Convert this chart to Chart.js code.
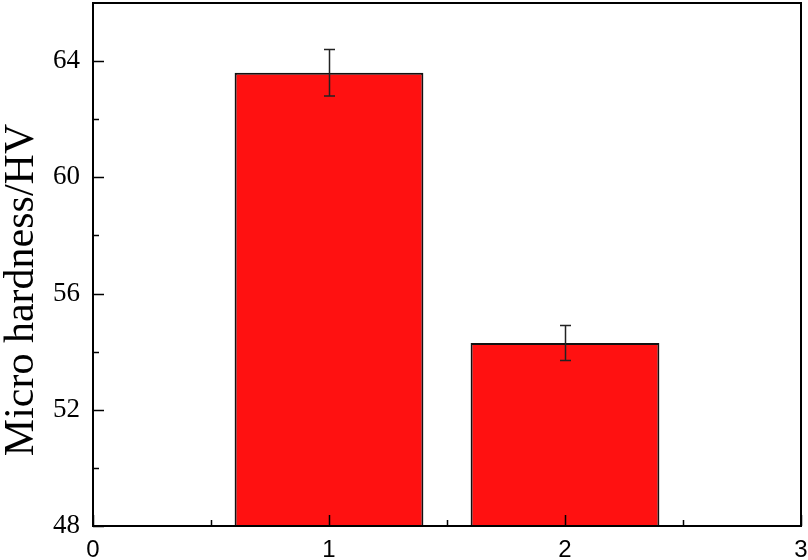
<!DOCTYPE html>
<html>
<head>
<meta charset="utf-8">
<script src="https://cdn.jsdelivr.net/npm/chart.js@4.4.0/dist/chart.umd.min.js"></script>
<style>
  html, body { margin: 0; padding: 0; background: #ffffff; }
  #wrap { width: 808px; height: 560px; }
</style>
</head>
<body>
<div id="wrap"><canvas id="c" width="808" height="560"></canvas></div>
<script>
// ---- data ----
const samples = [1, 2];
const hardness = [63.6, 54.3];
const hardnessError = [0.8, 0.6];
const xTickValues = [0, 1, 2, 3];
const xMinorTicks = [0.5, 1.5, 2.5];
const yTickValues = [48, 52, 56, 60, 64];
const yMinorTicks = [50, 54, 58, 62];
const yTitle = 'Micro hardness/HV';

const frameAndTicks = {
  id: 'frameAndTicks',
  afterDatasetsDraw(chart) {
    const ctx = chart.ctx;
    const a = chart.chartArea;
    const xs = chart.scales.x, ys = chart.scales.y;
    ctx.save();
    // error bars
    ctx.strokeStyle = '#222222';
    ctx.lineWidth = 1.5;
    samples.forEach((s, i) => {
      const px = Math.round(xs.getPixelForValue(s)) + 0.5;
      const top = ys.getPixelForValue(hardness[i] + hardnessError[i]);
      const bot = ys.getPixelForValue(hardness[i] - hardnessError[i]);
      ctx.beginPath();
      ctx.moveTo(px, top); ctx.lineTo(px, bot);
      ctx.moveTo(px - 5.5, top); ctx.lineTo(px + 5.5, top);
      ctx.moveTo(px - 5.5, bot); ctx.lineTo(px + 5.5, bot);
      ctx.stroke();
    });
    // inward ticks
    ctx.strokeStyle = '#000000';
    ctx.lineWidth = 1.5;
    ctx.beginPath();
    yTickValues.forEach(v => {
      const py = Math.round(ys.getPixelForValue(v)) + 0.5;
      ctx.moveTo(a.left, py); ctx.lineTo(a.left + 11, py);
    });
    yMinorTicks.forEach(v => {
      const py = Math.round(ys.getPixelForValue(v)) + 0.5;
      ctx.moveTo(a.left, py); ctx.lineTo(a.left + 6, py);
    });
    xTickValues.forEach(v => {
      const px = Math.round(xs.getPixelForValue(v)) + 0.5;
      ctx.moveTo(px, a.bottom); ctx.lineTo(px, a.bottom - 11);
    });
    xMinorTicks.forEach(v => {
      const px = Math.round(xs.getPixelForValue(v)) + 0.5;
      ctx.moveTo(px, a.bottom); ctx.lineTo(px, a.bottom - 6);
    });
    ctx.stroke();
    // frame
    ctx.lineWidth = 2;
    ctx.strokeRect(a.left, a.top, a.right - a.left, a.bottom - a.top);
    // y title
    ctx.fillStyle = '#000000';
    ctx.font = '42px "Liberation Serif", "Times New Roman", serif';
    ctx.textAlign = 'center';
    ctx.textBaseline = 'alphabetic';
    ctx.translate(33, 290);
    ctx.rotate(-Math.PI / 2);
    ctx.fillText(yTitle, 0, 0);
    ctx.restore();
  }
};

new Chart(document.getElementById('c'), {
  type: 'bar',
  data: {
    datasets: [{
      data: samples.map((s, i) => ({ x: s, y: hardness[i] })),
      backgroundColor: '#ff1111',
      borderColor: '#111111',
      borderWidth: 2,
      borderSkipped: false,
      barPercentage: 0.8,
      categoryPercentage: 1.0
    }]
  },
  options: {
    responsive: false,
    animation: false,
    events: [],
    layout: { padding: { left: 0, right: 7, top: 3, bottom: 0 } },
    plugins: { legend: { display: false }, tooltip: { enabled: false } },
    scales: {
      x: {
        type: 'linear',
        offset: false,
        min: 0, max: 3,
        afterFit(scale) { scale.height = 34; scale.paddingLeft = 0; scale.paddingRight = 0; },
        afterBuildTicks(scale) { scale.ticks = xTickValues.map(v => ({ value: v })); },
        grid: { display: false, drawTicks: false, offset: false },
        border: { display: true, color: '#000000', width: 2 },
        ticks: {
          padding: 10,
          color: '#000000',
          font: { family: '"Liberation Sans", Arial, sans-serif', size: 24 }
        }
      },
      y: {
        min: 48, max: 66,
        afterFit(scale) { scale.width = 93; scale.paddingTop = 0; scale.paddingBottom = 0; },
        afterBuildTicks(scale) { scale.ticks = yTickValues.map(v => ({ value: v })); },
        grid: { display: false, drawTicks: false },
        border: { display: true, color: '#000000', width: 2 },
        ticks: {
          padding: 13,
          color: '#000000',
          font: { family: '"Liberation Serif", "Times New Roman", serif', size: 27 }
        }
      }
    }
  },
  plugins: [frameAndTicks]
});
</script>
</body>
</html>
